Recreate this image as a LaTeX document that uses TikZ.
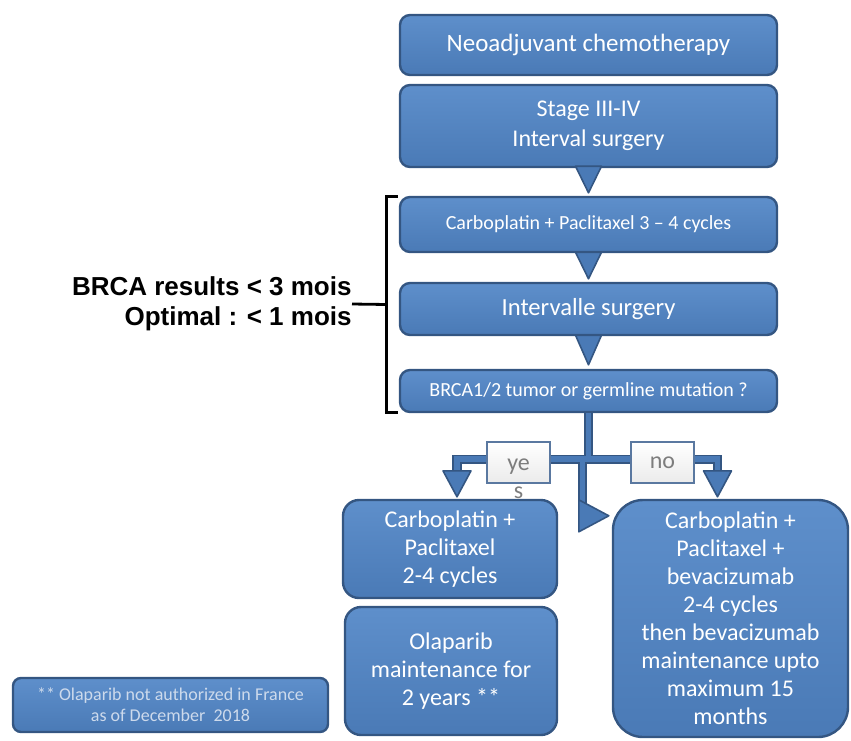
\documentclass[tikz,border=0pt]{standalone}
\usepackage{fontspec}
\setmainfont{Carlito}
\newfontfamily\labelfont{Liberation Sans}
\usetikzlibrary{calc}

\definecolor{boxblue}{RGB}{74,122,182}
\definecolor{boxtop}{RGB}{94,143,203}
\definecolor{boxdark}{RGB}{52,86,130}
\definecolor{notetext}{RGB}{205,218,236}
\definecolor{yngray}{RGB}{125,125,125}
\definecolor{ynedge}{RGB}{90,120,160}

\tikzset{
	flowbox/.style={draw=boxdark, top color=boxtop, bottom color=boxblue, line width=1.2pt,
		rounded corners=5pt, text=white, align=center, inner sep=2pt},
	stepbox/.style={flowbox, minimum width=188.5pt},
	ynbox/.style={draw=ynedge, top color=white, bottom color=black!8, line width=1pt,
		text=yngray, minimum width=31.5pt, minimum height=20.5pt, inner sep=0pt,
		font=\fontsize{12}{12}\selectfont},
	headtri/.style={draw=boxdark, fill=boxblue, line width=0.8pt, line join=round},
	fatback/.style={draw=boxdark, line width=4.6pt},
	fatfront/.style={draw=boxblue, line width=2.8pt},
	bracket/.style={draw=black, line width=1.4pt}
}

\begin{document}
\begin{tikzpicture}[x=0.5pt,y=-0.5pt]
	\useasboundingbox (0,0) rectangle (851,740);

	% upper chain
	\node[stepbox, minimum height=30pt, font=\fontsize{12.5}{15}\selectfont] (neo) at (588.5,45) {Neoadjuvant chemotherapy};
	\node[stepbox, minimum height=41pt, font=\fontsize{12}{15}\selectfont] (stage) at (588.5,126) {Stage III-IV\\Interval surgery};
	\node[stepbox, minimum height=27.5pt, font=\fontsize{10}{12}\selectfont] (carbo) at (588.5,224.5) {Carboplatin + Paclitaxel 3 -- 4 cycles};
	\node[stepbox, minimum height=26pt, font=\fontsize{12.3}{15}\selectfont] (interv) at (588.5,309) {Intervalle surgery};
	\node[stepbox, minimum height=21pt, font=\fontsize{10}{12}\selectfont] (brca) at (588.5,391) {BRCA1/2 tumor or germline mutation ?};

	\draw[headtri] ($(stage.south)+(-13,-2)$) -- ($(stage.south)+(13,-2)$) -- ($(carbo.north)+(0,-3)$) -- cycle;
	\draw[headtri] ($(carbo.south)+(-13,-1)$) -- ($(carbo.south)+(13,-1)$) -- ($(interv.north)+(0,-3)$) -- cycle;
	\draw[headtri] ($(interv.south)+(-13,-1)$) -- ($(interv.south)+(13,-1)$) -- ($(brca.north)+(0,-4)$) -- cycle;

	% bracket and delay text
	\node[anchor=east, align=right, inner sep=0pt, font=\labelfont\bfseries\fontsize{13}{15}\selectfont] (delay) at (352,304) {BRCA results < 3 mois\\Optimal : < 1 mois};
	\coordinate (bmid) at ($(carbo.north west)!0.5!(brca.south west)$);
	\draw[bracket] ($(carbo.north west)+(-1,1)$) -- ++(-11,0) |- ($(brca.south west)+(-1,-1)$);
	\draw[bracket] ($(bmid)+(-12,0)$) -- (delay.east);

	% lower boxes
	\node[flowbox, rounded corners=8pt, minimum width=107pt, minimum height=49pt, font=\fontsize{12}{14}\selectfont] (yesbox) at (450,549) {Carboplatin +\\Paclitaxel\\2-4 cycles};
	\node[flowbox, rounded corners=8pt, minimum width=106pt, minimum height=64pt, font=\fontsize{12}{14}\selectfont] (olap) at (451,671) {Olaparib\\maintenance for\\2 years **};
	\node[flowbox, rounded corners=15pt, minimum width=117.5pt, minimum height=118.5pt, font=\fontsize{12}{14}\selectfont] (nobox) at (730.5,618.5) {Carboplatin +\\Paclitaxel +\\bevacizumab\\2-4 cycles\\then bevacizumab\\maintenance upto\\maximum 15\\months};
	\node[flowbox, rounded corners=4pt, minimum width=157.5pt, minimum height=27pt, text=notetext, font=\fontsize{9}{10.5}\selectfont] (note) at (170.5,705) {** Olaparib not authorized in France\\as of December~ 2018};

	% split connectors
	\coordinate (split) at ($(brca.south)+(0,46)$);
	\coordinate (yestip) at ($(yesbox.north)+(7,-2)$);
	\coordinate (notip) at ($(nobox.north)+(-13,-2)$);
	\coordinate (midtip) at ($(nobox.north west)+(-3,17)$);

	\draw[fatback] (brca.south) -- (split);
	\draw[fatback] ($(yestip)+(0,-24)$) |- (split) -| ($(notip)+(0,-24)$);
	\draw[fatback] ($(split)+(-6,0)$) -- ($(split)+(-6,48)$);
	\draw[fatfront] (brca.south) -- (split);
	\draw[fatfront] ($(yestip)+(0,-24)$) |- (split) -| ($(notip)+(0,-24)$);
	\draw[fatfront] ($(split)+(-6,0)$) -- ($(split)+(-6,48)$);

	\draw[headtri] ($(yestip)+(-14,-26)$) -- ($(yestip)+(14,-26)$) -- (yestip) -- cycle;
	\draw[headtri] ($(notip)+(-14,-26)$) -- ($(notip)+(14,-26)$) -- (notip) -- cycle;
	\draw[headtri] ($(midtip)+(-30,-16)$) -- ($(midtip)+(-30,16)$) -- (midtip) -- cycle;

	\node[ynbox, text depth=0pt] (yes) at (518.5,462.5) {\begin{tabular}[t]{@{}c@{}}ye\\[2pt]s\end{tabular}};
	\node[ynbox] (no) at (662.5,462.5) {no};
\end{tikzpicture}
\end{document}
